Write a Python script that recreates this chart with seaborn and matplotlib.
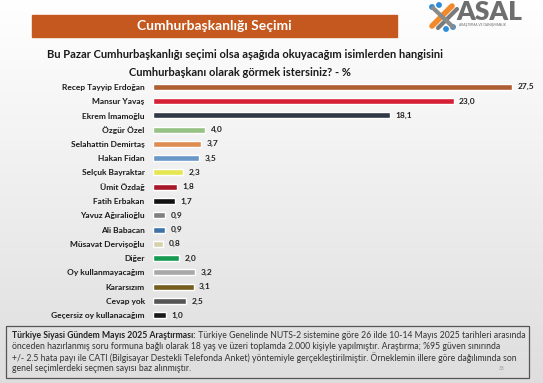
import numpy as np
import pandas as pd
import matplotlib.pyplot as plt
from matplotlib.patches import Rectangle
import seaborn as sns

# Anket sonuçları (%)
adaylar = ['Recep Tayyip Erdoğan', 'Mansur Yavaş', 'Ekrem İmamoğlu', 'Özgür Özel',
           'Selahattin Demirtaş', 'Hakan Fidan', 'Selçuk Bayraktar', 'Ümit Özdağ',
           'Fatih Erbakan', 'Yavuz Ağıralioğlu', 'Ali Babacan', 'Müsavat Dervişoğlu',
           'Diğer', 'Oy kullanmayacağım', 'Kararsızım', 'Cevap yok',
           'Geçersiz oy kullanacağım']
oranlar = [27.5, 23.0, 18.1, 4.0, 3.7, 3.5, 2.3, 1.8, 1.7, 0.9, 0.9, 0.8,
           2.0, 3.2, 3.1, 2.5, 1.0]
renkler = ['#C4581E', '#F5001E', '#2D3849', '#92CD78', '#F48A3A', '#5A97D6',
           '#FFFF3A', '#C0001A', '#111111', '#7F7F7F', '#2E72B8', '#DCD6A6',
           '#00B04F', '#A8A8A8', '#846312', '#555555', '#1A1A1A']

baslik = 'Cumhurbaşkanlığı Seçimi'
soru = ['Bu Pazar Cumhurbaşkanlığı seçimi olsa aşağıda okuyacağım isimlerden hangisini',
        'Cumhurbaşkanı olarak görmek istersiniz? - %']
dipnot_bas = 'Türkiye Siyasi Gündem Mayıs 2025 Araştırması:'
dipnot = [' Türkiye Genelinde NUTS-2 sistemine göre 26 ilde 10-14 Mayıs 2025 tarihleri arasında',
          'önceden hazırlanmış soru formuna bağlı olarak 18 yaş ve üzeri toplamda 2.000 kişiyle yapılmıştır. Araştırma; %95 güven sınırında',
          '+/- 2.5 hata payı ile CATI (Bilgisayar Destekli Telefonda Anket) yöntemiyle gerçekleştirilmiştir. Örneklemin illere göre dağılımında son',
          'genel seçimlerdeki seçmen sayısı baz alınmıştır.']

df = pd.DataFrame({'aday': adaylar, 'oran': oranlar})

sns.set_style('white')
plt.rcParams['font.family'] = ['Lato', 'DejaVu Sans']

W, H = 543, 383
fig = plt.figure(figsize=(W / 100, H / 100), dpi=100)

# arka plan: beyazdan açık griye geçiş (piksel piksel)
grad = np.linspace(1.0, 0.87, H).reshape(-1, 1, 1) * np.ones((1, W, 3))
fig.figimage(grad, origin='upper', zorder=-10)
# sağ kenar şeridi en üste (kenar çizgisi kalmasın)
fig.figimage(grad[:, -6:, :], xo=W - 6, origin='upper', zorder=100)

bg = fig.add_axes([0, 0, 1, 1], zorder=-5)
bg.patch.set_alpha(0)
bg.set_xlim(0, W)
bg.set_ylim(H, 0)
bg.axis('off')

# başlık bandı
bg.add_patch(Rectangle((32, 15), 365, 22, color='#C4581E'))
bg.text(214, 26.5, baslik, color='white', fontsize=10, fontweight='bold',
        ha='center', va='center')

# logo
bg.plot([432, 452], [26, 6], color='#F08A2C', lw=4, solid_capstyle='round')
bg.plot([438, 457], [28, 9], color='#7A7A7A', lw=3, solid_capstyle='round')
bg.plot([433, 453], [8, 27], color='#8A8A8A', lw=3, solid_capstyle='round')
for x, y in [(432, 7), (439, 5), (453, 27), (446, 29)]:
    bg.add_patch(plt.Circle((x, y), 2.2, color='#2E8BD8'))
bg.text(456, 19.5, 'ASAL', color='#6E6E6E', fontsize=19, fontweight='heavy',
        ha='left', va='baseline')
bg.text(459, 25, 'ARAŞTIRMA VE DANIŞMANLIK', color='#6E6E6E', fontsize=2.4,
        ha='left', va='center')

# soru metni
bg.text(245, 55, soru[0], fontsize=8, fontweight='bold', color='#1a1a1a',
        ha='center', va='center')
bg.text(240, 72, soru[1], fontsize=8, fontweight='bold', color='#1a1a1a',
        ha='center', va='center')

# dipnot kutusu
bg.add_patch(Rectangle((6, 326), 523, 52, facecolor='none', edgecolor='#555555', lw=0.9))
fs = 6.2
t = bg.text(12, 336, dipnot_bas, fontsize=fs, fontweight='bold', color='#222222',
            ha='left', va='center')
fig.canvas.draw()
bb = t.get_window_extent()
bg.text(12 + bb.width, 336, dipnot[0], fontsize=fs, color='#333333',
        ha='left', va='center')
for i, satir in enumerate(dipnot[1:]):
    bg.text(12, 346.7 + i * 10.7, satir, fontsize=fs, color='#333333',
            ha='left', va='center')
bg.text(502, 368, '38', fontsize=3.5, color='#999999', ha='center', va='center')

# çubuk grafik
top, bottom = 79.6, 322.4
ax = fig.add_axes([153 / W, 1 - bottom / H, 380 / W, (bottom - top) / H])
ax.patch.set_alpha(0)
sns.barplot(data=df, x='oran', y='aday', hue='aday', palette=renkler,
            legend=False, width=0.42, ax=ax, orient='h')
ax.set_xlim(0, 380 / 13.07)
ax.set_ylim(len(adaylar) - 0.5, -0.5)
for c in ax.containers:
    ax.bar_label(c, labels=[f'{v:.1f}'.replace('.', ',') for v in c.datavalues],
                 padding=4, fontsize=6, fontweight='bold', color='#222222')
ax.set_xlabel('')
ax.set_ylabel('')
ax.set_xticks([])
ax.tick_params(axis='y', length=0, pad=6, labelsize=6, labelcolor='#1a1a1a')
for lbl in ax.get_yticklabels():
    lbl.set_fontweight('bold')
sns.despine(ax=ax, left=True, bottom=True)

fig.savefig('out.png', dpi=100)
